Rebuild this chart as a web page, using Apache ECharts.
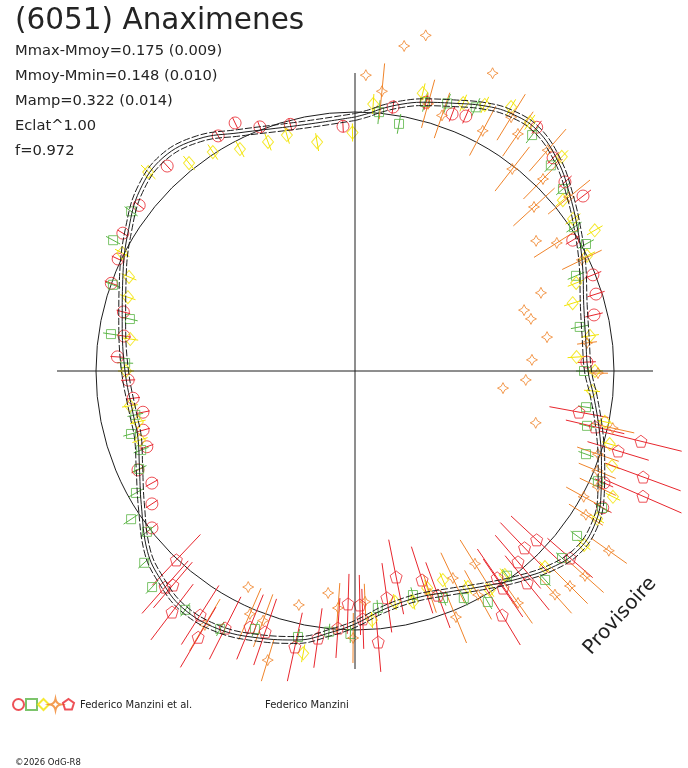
<!DOCTYPE html>
<html>
<head>
<meta charset="utf-8">
<script src="https://cdn.jsdelivr.net/npm/echarts@6/dist/echarts.min.js"></script>
<style>
  html, body { margin: 0; padding: 0; background: #fff; }
  #main { width: 688px; height: 768px; }
</style>
</head>
<body>
<div id="main"></div>
<script>
// phase in degrees (0 at top, clockwise), radius in plot units, radial error
const refRadius = 259
const axisReach = 298
const plotMax = 360
const fitSpread = 3.5

const fitCurve = [
  [0, 254], [3, 258], [6, 264], [10, 271], [14, 277], [20, 285], [26, 295], [31, 301], [37, 302],
  [44, 292], [51, 277], [58, 263], [65, 251], [74, 238], [82, 233], [90, 233], [96, 240],
  [104, 252], [111, 264], [117, 276], [123, 285], [129, 286], [135, 278], [142, 264],
  [149, 251], [157, 240], [165, 235], [173, 240], [180, 253], [185, 262], [192, 275],
  [200, 284], [208, 292], [216, 293], [223, 285], [229, 275], [238, 252], [246, 236],
  [253, 227], [259, 226], [270, 230], [282, 238], [293, 252], [302, 267], [310, 281],
  [318, 287], [326, 280], [334, 265], [345, 253], [352, 251], [360, 254]
]

const redCircles = [
  [357.2, 245, 6], [345.3, 255, 6], [338.7, 262, 6], [334.2, 275.5, 6], [329.8, 272, 6],
  [317.5, 278, 6], [307.5, 272, 6], [300.7, 270, 6], [295.3, 262, 7], [289.8, 259, 7],
  [284.3, 239, 7], [278.6, 233.6, 7], [273.4, 238, 7], [267.7, 227, 7], [263, 223.6, 7],
  [259, 216, 7], [254.4, 220, 7], [250, 221.5, 7], [245.5, 238.5, 7], [241.1, 232, 7],
  [236.8, 242.7, 7], [232.3, 256.6, 7], [8.2, 266.7, 7], [14.8, 278, 8], [20.7, 274.7, 8],
  [23.5, 278, 8], [36.7, 304, 8], [42.9, 291, 8], [48, 282.5, 9], [52.5, 287.4, 10],
  [59, 254, 8], [68, 256.6, 9], [72.3, 253, 9], [76.8, 245.5, 9], [87.8, 232, 9],
  [114.2, 273, 10], [118.9, 283, 10]
]

const greenSquares = [
  [305.5, 275, 8], [298.4, 275, 8], [289.6, 257, 8], [283, 231, 8], [278.6, 246.8, 8],
  [272, 230, 8], [258.7, 224, 8], [254.3, 232.7, 8], [249.7, 228, 8], [245.6, 237, 8],
  [240.9, 250.7, 8], [236.5, 268.5, 9], [232.3, 263, 8], [227.7, 285, 8], [223.2, 296.4, 9],
  [215.4, 293, 8], [207.6, 291, 8], [201.2, 276.7, 8], [192.1, 272, 8], [185.7, 262, 8],
  [181, 263, 9], [174.5, 238, 8], [165.5, 231.4, 8], [158.8, 243.5, 8], [154.4, 251.8, 8],
  [150.1, 266.5, 8], [143.4, 255, 8], [137.7, 282.5, 8], [132.1, 279, 8], [126.6, 276.6, 8],
  [119, 282.5, 8], [114.4, 266.7, 8], [109.8, 245.5, 8], [103.3, 238.4, 8], [98.9, 233.8, 8],
  [90, 229, 8], [5.3, 260, 12], [10.1, 251, 10], [14.6, 278, 10], [19, 283, 10],
  [24.6, 290, 10], [36.9, 295, 10], [43.6, 284, 9], [48.8, 276.4, 9], [56.7, 262, 9],
  [61.2, 263.6, 9], [66.7, 240.6, 9], [78.9, 229, 9]
]

const yellowDiamonds = [
  [359.4, 238.5, 9], [350.6, 232, 9], [343.9, 245.6, 9], [339.2, 245, 9], [332.6, 250, 9],
  [327, 261, 9], [321.4, 266, 9], [313.9, 287, 10], [296.9, 261, 8], [292.6, 244.8, 8],
  [288, 238.8, 8], [278.1, 227, 8], [270, 229, 8], [261.2, 227.7, 8], [256.8, 223, 8],
  [252.2, 225.8, 8], [190.4, 287, 9], [176.1, 249.6, 8], [170.2, 234.4, 8], [165.9, 238, 8],
  [161.6, 228.6, 8], [157.2, 226.8, 8], [152.4, 243.8, 8], [148.4, 257, 8], [143.7, 253, 8],
  [135.9, 273, 8], [127.2, 287.6, 8], [121.4, 283.7, 8], [116, 287, 8], [110.3, 274, 8],
  [106, 265, 8], [101.5, 255, 8], [94.8, 237.8, 8], [90, 240, 8], [3.9, 267.6, 10],
  [13.7, 286, 10], [22, 289, 9], [26, 296, 9], [30.6, 306.6, 9], [35.1, 304, 9],
  [44, 297.7, 9], [50.6, 269, 9], [55.1, 265.8, 9], [59.6, 278, 9], [63.6, 259, 9],
  [68.3, 238, 9], [72.7, 228, 9], [81.5, 237.6, 9], [86.4, 222, 9]
]

const orangeStars = [
  [11.9, 343, 0], [8.6, 328.7, 0], [2.1, 296, 0], [24.8, 328, 0], [5.5, 281, 28],
  [15.3, 277, 25], [18.8, 270, 24], [28, 272, 28], [31.6, 298, 27], [34.5, 287.6, 27],
  [37.9, 256, 28], [41.1, 293, 28], [44.4, 268.7, 28], [47.5, 242.8, 28], [50.9, 275.8, 27],
  [57.6, 239, 27], [63.9, 252.7, 22], [54.3, 223, 0], [67.2, 201.7, 0], [70.2, 179.7, 0],
  [73.5, 183.5, 0], [80, 195, 0], [86.4, 177.3, 0], [96.6, 149, 0], [93, 171, 0],
  [106, 188, 0], [83.1, 233.7, 10], [90.5, 243, 10], [102.5, 264, 22], [108.9, 256.8, 22],
  [112.4, 262, 20], [115.5, 269, 20], [118.8, 261, 20], [121.9, 272, 20], [125.3, 311, 22],
  [131.7, 308, 25], [135, 304, 25], [138.2, 300, 25], [144.9, 283.5, 25], [148.1, 227, 28],
  [151.2, 255.5, 28], [154.7, 229, 28], [157.7, 266, 28], [161.4, 235, 20], [177.5, 231, 18],
  [180.4, 267, 25], [184.1, 237.6, 25], [186.9, 223.6, 0], [193.5, 240.6, 0], [206.3, 241, 0],
  [196.8, 302, 22], [200.2, 266, 28], [203.4, 264.7, 28], [210.6, 295, 30]
]

const redPentagons = [
  [223.4, 260, 35], [221.3, 287.7, 35], [220.4, 281, 30], [217.2, 302.6, 35], [212.4, 289, 35],
  [210.5, 309, 35], [206.8, 288, 35], [202.3, 276.7, 35], [199, 276, 35], [192.3, 282.4, 35],
  [187.9, 269.6, 30], [183.8, 257.6, 30], [181.7, 233, 30], [178.8, 234, 30], [178.2, 248, 30],
  [175.1, 272, 30], [172, 229, 35], [168.7, 210, 38], [162.2, 219.5, 35], [159.7, 239, 35],
  [148.9, 285, 35], [145.7, 262.7, 35], [145.5, 251, 35], [140.9, 273, 35], [139.5, 251, 35],
  [136.2, 245, 35], [132.9, 248, 35], [131, 285, 30], [100.4, 227.7, 30], [103.1, 246.5, 30],
  [106.9, 275, 32], [103.8, 294.4, 42], [110.2, 307, 40], [113.5, 314, 42]
]

const statLines = [
  'Mmax-Mmoy=0.175 (0.009)',
  'Mmoy-Mmin=0.148 (0.010)',
  'Mamp=0.322 (0.014)',
  'Eclat^1.00',
  'f=0.972'
]

const ink = '#1e1e1e'
const starPath = 'path://M0,-10 Q1.6,-1.6 10,0 Q1.6,1.6 0,10 Q-1.6,1.6 -10,0 Q-1.6,-1.6 0,-10Z'
const pentaPath = 'path://M0,-10 L9.51,-3.09 L5.88,8.09 L-5.88,8.09 L-9.51,-3.09Z'

const markerSets = [
  { name: 'circles', data: redCircles, color: '#e8262d', symbol: 'circle', size: 12, lx: 18 },
  { name: 'squares', data: greenSquares, color: '#5bb546', symbol: 'rect', size: 9, lx: 31 },
  { name: 'diamonds', data: yellowDiamonds, color: '#f2e400', symbol: 'diamond', size: [11, 13], lx: 43 },
  { name: 'stars', data: orangeStars, color: '#f0842a', symbol: starPath, size: 11, lx: 55 },
  { name: 'pentagons', data: redPentagons, color: '#e8262d', symbol: pentaPath, size: 12, lx: 68 }
]

const toPolar = (d) => [d[1], d[0], d[2]]

function errorBars(color) {
  return function (params, api) {
    const r = api.value(0)
    const a = api.value(1)
    const e = api.value(2)
    if (!e) return
    const p1 = api.coord([r - e, a])
    const p2 = api.coord([r + e, a])
    return {
      type: 'line',
      shape: { x1: p1[0], y1: p1[1], x2: p2[0], y2: p2[1] },
      style: { stroke: color, lineWidth: 1 }
    }
  }
}

// mean-brightness reference circle, sized through the radius axis
function refCircle(params, api) {
  const c = api.coord([0, 0])
  const edge = api.coord([api.value(0), 0])
  return {
    type: 'circle',
    shape: { cx: c[0], cy: c[1], r: Math.hypot(edge[0] - c[0], edge[1] - c[1]) },
    style: { fill: 'none', stroke: ink, lineWidth: 1 }
  }
}

const lineBase = {
  type: 'line',
  coordinateSystem: 'polar',
  showSymbol: false,
  symbol: 'none',
  clip: false,
  silent: true,
  animation: false
}

const series = [
  Object.assign({}, lineBase, { data: [[axisReach, 270], [axisReach, 90]], lineStyle: { color: ink, width: 1 } }),
  Object.assign({}, lineBase, { data: [[axisReach, 0], [axisReach, 180]], lineStyle: { color: ink, width: 1 } }),
  { type: 'custom', coordinateSystem: 'polar', silent: true, animation: false, data: [[refRadius, 0]], renderItem: refCircle },
  Object.assign({}, lineBase, { smooth: 0.4, data: fitCurve.map(d => [d[1], d[0]]), lineStyle: { color: ink, width: 1 } }),
  Object.assign({}, lineBase, { smooth: 0.4, data: fitCurve.map(d => [d[1] + fitSpread, d[0]]), lineStyle: { color: ink, width: 1, type: [7, 2] } }),
  Object.assign({}, lineBase, { smooth: 0.4, data: fitCurve.map(d => [d[1] - fitSpread, d[0]]), lineStyle: { color: ink, width: 1, type: [7, 2] } })
]

markerSets.forEach(m => {
  series.push({
    type: 'custom',
    coordinateSystem: 'polar',
    silent: true,
    animation: false,
    data: m.data.map(toPolar),
    renderItem: errorBars(m.color)
  })
})

markerSets.forEach(m => {
  series.push({
    name: m.name,
    type: 'scatter',
    coordinateSystem: 'polar',
    clip: false,
    silent: true,
    animation: false,
    symbol: m.symbol,
    symbolSize: m.size,
    data: m.data.map(toPolar),
    itemStyle: { color: 'rgba(0,0,0,0)', borderColor: m.color, borderWidth: 1 }
  })
})

const legends = markerSets.map(m => ({
  data: [m.name],
  left: m.lx - 6,
  top: 698,
  padding: 0,
  itemWidth: 11,
  itemHeight: 11,
  selectedMode: false,
  formatter: () => '',
  textStyle: { fontSize: 1 }
}))

const textFont = '"DejaVu Sans", sans-serif'
const graphics = [
  { type: 'text', x: 15, y: 21.4, style: { text: '(6051) Anaximenes', font: '29.5px ' + textFont, fill: '#242424', textVerticalAlign: 'middle' } }
]
statLines.forEach((t, i) => {
  graphics.push({ type: 'text', x: 15, y: 51.4 + i * 25, style: { text: t, font: '14.7px ' + textFont, fill: '#242424', textVerticalAlign: 'middle' } })
})
graphics.push(
  { type: 'text', x: 80, y: 705, style: { text: 'Federico Manzini et al.', font: '10px ' + textFont, fill: '#222', textVerticalAlign: 'middle' } },
  { type: 'text', x: 265, y: 705, style: { text: 'Federico Manzini', font: '10px ' + textFont, fill: '#222', textVerticalAlign: 'middle' } },
  { type: 'text', x: 15, y: 763, style: { text: '\u00a92026 OdG-R8', font: '8.5px ' + textFont, fill: '#222', textVerticalAlign: 'middle' } },
  { type: 'text', x: 620, y: 616, rotation: 47.5 * Math.PI / 180, style: { text: 'Provisoire', font: '20px ' + textFont, fill: '#222', textAlign: 'center', textVerticalAlign: 'middle' } }
)

const chart = echarts.init(document.getElementById('main'))
chart.setOption({
  animation: false,
  backgroundColor: '#fff',
  polar: { center: [355, 371], radius: plotMax },
  angleAxis: {
    type: 'value',
    min: 0,
    max: 360,
    startAngle: 90,
    clockwise: true,
    axisLine: { show: false },
    axisTick: { show: false },
    axisLabel: { show: false },
    splitLine: { show: false }
  },
  radiusAxis: {
    type: 'value',
    min: 0,
    max: plotMax,
    axisLine: { show: false },
    axisTick: { show: false },
    axisLabel: { show: false },
    splitLine: { show: false }
  },
  legend: legends,
  graphic: graphics,
  series: series
})
</script>
</body>
</html>
